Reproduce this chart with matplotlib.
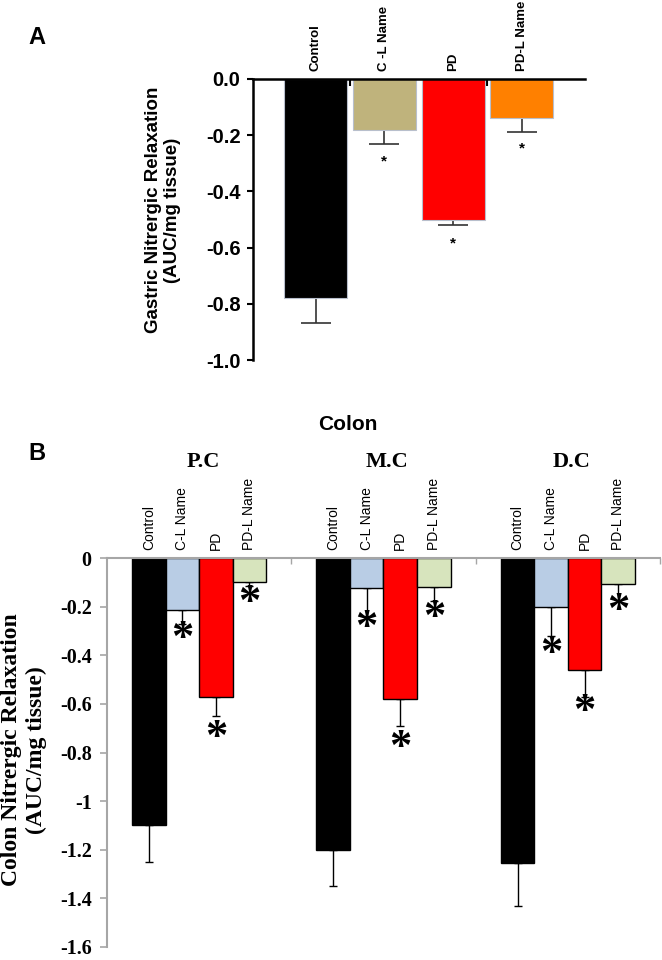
import numpy as np
import matplotlib

matplotlib.use("Agg")
import matplotlib.pyplot as plt

SANS = ["Liberation Sans", "DejaVu Sans"]
SERIF = ["Liberation Serif", "DejaVu Serif"]

# Panel A: gastric
gastric_groups = ["Control", "C -L Name", "PD", "PD-L Name"]
gastric_means = [-0.78, -0.18, -0.50, -0.14]
gastric_sem = [0.09, 0.05, 0.02, 0.05]
gastric_star_y = [None, -0.295, -0.587, -0.246]
gastric_colors = ["#000000", "#bfb37c", "#ff0000", "#ff8000"]

# Panel B: colon segments
segments = ["P.C", "M.C", "D.C"]
colon_groups = ["Control", "C-L Name", "PD", "PD-L Name"]
colon_means = [
    [-1.10, -0.215, -0.57, -0.10],
    [-1.20, -0.123, -0.58, -0.118],
    [-1.255, -0.20, -0.46, -0.107],
]
colon_sem = [
    [0.15, 0.058, 0.08, 0.017],
    [0.15, 0.114, 0.11, 0.06],
    [0.175, 0.121, 0.11, 0.064],
]
colon_star_y = [
    [None, -0.335, -0.739, -0.184],
    [None, -0.286, -0.78, -0.245],
    [None, -0.396, -0.633, -0.22],
]
colon_colors = ["#000000", "#b9cde5", "#ff0000", "#d7e4bd"]

fig = plt.figure(figsize=(6.62, 9.6), dpi=100)

# ---------------- Panel A ----------------
axA = fig.add_axes([253 / 662, 1 - 360 / 960, 332 / 662, 281 / 960])
xa = np.arange(len(gastric_groups))
axA.bar(xa, gastric_means, width=0.917, color=gastric_colors,
        edgecolor="#b8bfcc", linewidth=0.8, zorder=2)
axA.errorbar(xa, gastric_means, yerr=[gastric_sem, [0] * len(xa)], fmt="none",
             ecolor="#333333", elinewidth=1.2, capsize=10.5, capthick=1.2, zorder=1)
for x, sy in zip(xa, gastric_star_y):
    if sy is not None:
        axA.text(x, sy, "*", ha="center", va="center", fontsize=11,
                 fontweight="bold", family=SANS)
axA.set_xlim(-0.91, 3.92)
axA.set_ylim(-1.0, 0.0)
ya = np.round(np.arange(-1.0, 0.01, 0.2), 1)
axA.set_yticks(ya)
axA.set_yticklabels(["0.0" if v == 0 else f"{v:.1f}" for v in ya],
                    fontsize=14.5, fontweight="bold", family=SANS)
axA.xaxis.tick_top()
axA.set_xticks(xa)
axA.set_xticklabels(gastric_groups, rotation=90, fontsize=9.5, fontweight="bold",
                    family=SANS)
axA.set_xticks([0.5, 2.5], minor=True)
axA.tick_params(axis="x", which="major", length=0, pad=6)
axA.tick_params(axis="x", which="minor", direction="in", length=5, width=1.5,
                top=True, bottom=False)
axA.tick_params(axis="y", direction="out", length=4, width=1.5, pad=5)
for side in ["right", "bottom"]:
    axA.spines[side].set_visible(False)
for side in ["left", "top"]:
    axA.spines[side].set_linewidth(1.8)
fig.text(163 / 662, 1 - 210 / 960, "Gastric Nitrergic Relaxation\n(AUC/mg tissue)",
         rotation=90, ha="center", va="center", multialignment="center",
         fontsize=13.5, fontweight="bold", family=SANS)
fig.text(37 / 662, 1 - 38 / 960, "A", ha="center", va="center", fontsize=17,
         fontweight="bold", family=SANS)

# ---------------- Panel B ----------------
axB = fig.add_axes([107 / 662, 1 - 947 / 960, 553 / 662, 389 / 960])
w = 0.182
offsets = (np.arange(len(colon_groups)) - 1.5) * w
xpos, labels = [], []
for gi, seg in enumerate(segments):
    xs = gi + offsets
    axB.bar(xs, colon_means[gi], width=w, color=colon_colors,
            edgecolor="black", linewidth=1.0, zorder=2)
    axB.errorbar(xs, colon_means[gi], yerr=[colon_sem[gi], [0] * len(xs)],
                 fmt="none", ecolor="black", elinewidth=1.0, capsize=3,
                 capthick=1.0, zorder=1)
    for x, sy in zip(xs, colon_star_y[gi]):
        if sy is not None:
            axB.text(x, sy, "*", ha="center", va="center", fontsize=32,
                     fontweight="bold", family=SERIF)
    xpos.extend(xs)
    labels.extend(colon_groups)
    fig.text((107 + (gi + 0.5) * 184.3 + 4) / 662, 1 - 462 / 960, seg,
             ha="center", va="center", fontsize=16, fontweight="bold", family=SERIF)

axB.set_xlim(-0.5, 2.5)
axB.set_ylim(-1.6, 0.0)
yt = np.round(np.arange(-1.6, 0.01, 0.2), 1)
axB.set_yticks(yt)
axB.set_yticklabels(["0" if v == 0 else f"{v:g}" for v in yt],
                    fontsize=14.5, fontweight="bold", family=SERIF)
axB.xaxis.tick_top()
axB.set_xticks(xpos)
axB.set_xticklabels(labels, rotation=90, fontsize=10, family=SANS)
axB.set_xticks([0.5, 1.5, 2.5], minor=True)
axB.tick_params(axis="x", which="major", length=0, pad=6)
axB.tick_params(axis="x", which="minor", direction="in", length=4, width=1,
                color="#a6a6a6", top=True, bottom=False)
axB.tick_params(axis="y", direction="out", length=5, width=1.2, color="#a6a6a6", pad=6)
for side in ["right", "bottom"]:
    axB.spines[side].set_visible(False)
for side in ["left", "top"]:
    axB.spines[side].set_color("#a6a6a6")
    axB.spines[side].set_linewidth(1.5)
fig.text(24 / 662, 1 - 750 / 960, "Colon Nitrergic Relaxation\n(AUC/mg tissue)",
         rotation=90, ha="center", va="center", multialignment="center",
         fontsize=17, fontweight="bold", family=SERIF)
fig.text(348 / 662, 1 - 425 / 960, "Colon", ha="center", va="center", fontsize=15,
         fontweight="bold", family=SANS)
fig.text(37 / 662, 1 - 453 / 960, "B", ha="center", va="center", fontsize=17,
         fontweight="bold", family=SANS)

fig.savefig("out.png", dpi=100)
